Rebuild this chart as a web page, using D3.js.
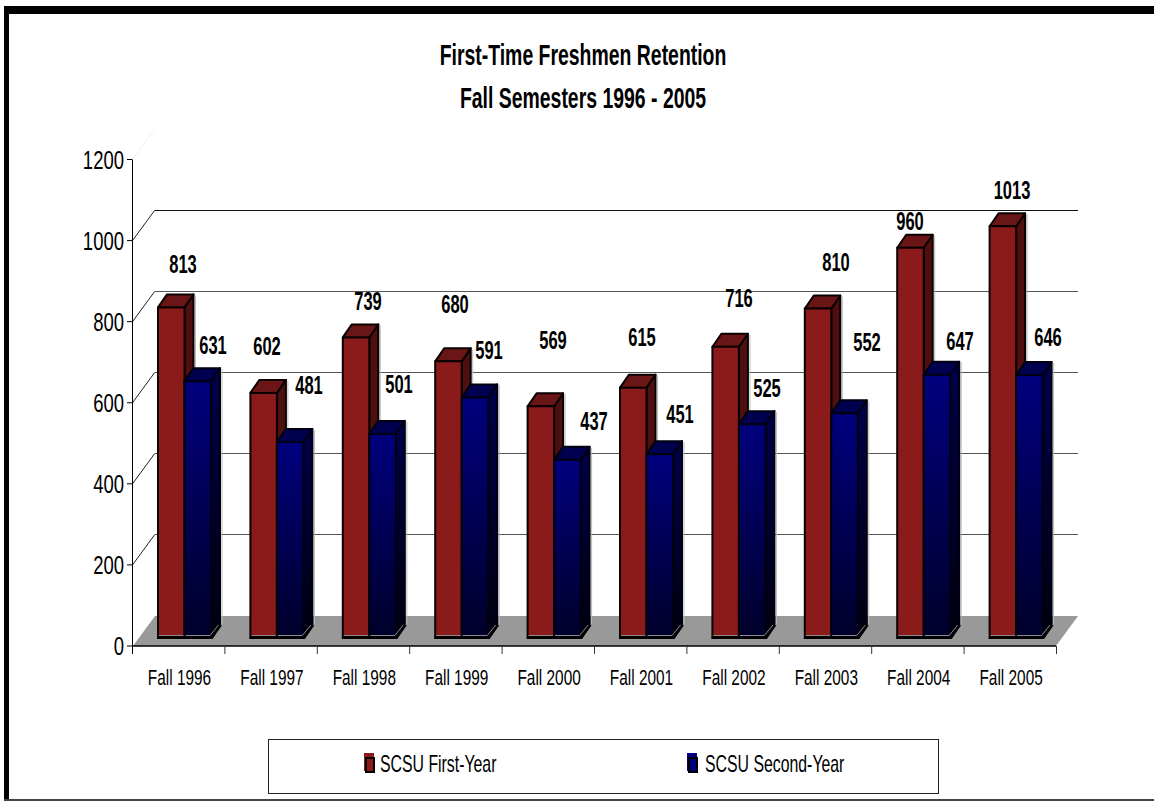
<!DOCTYPE html>
<html><head><meta charset="utf-8">
<script src="https://cdn.jsdelivr.net/npm/d3@7/dist/d3.min.js"></script>
<style>html,body{margin:0;padding:0;background:#fff}svg{display:block}text{font-family:"Liberation Sans",Arial,sans-serif;fill:#000}</style>
</head><body><svg id="c" width="1154" height="801"></svg>
<script>
const categories=["Fall 1996","Fall 1997","Fall 1998","Fall 1999","Fall 2000","Fall 2001","Fall 2002","Fall 2003","Fall 2004","Fall 2005"];
const firstYear=[813,602,739,680,569,615,716,810,960,1013];
const secondYear=[631,481,501,591,437,451,525,552,647,646];
const yTicks=[0,200,400,600,800,1000,1200];
const titleLines=["First-Time Freshmen Retention","Fall Semesters 1996 - 2005"];
const seriesNames=["SCSU First-Year","SCSU Second-Year"];
// hand-placed data-label centres, as in the reference
const firstLabelX=[183,267,368,455,553,642,739,836,910,1012];
const firstLabelY=[264,346,301,304,340,337,298,262,221,190];
const secondLabelX=[213,309,399,489,594,680,767,867,960,1048];
const secondLabelY=[345,385,384,350,421,414,388,342,341,337];

const svg=d3.select("#c");
const defs=svg.append("defs");
const g=defs.append("linearGradient").attr("id","blue").attr("x1",0).attr("x2",0).attr("y1",0).attr("y2",1);
g.append("stop").attr("offset",0).attr("stop-color","#00007e");
g.append("stop").attr("offset",1).attr("stop-color","#00002a");
const gs=defs.append("linearGradient").attr("id","blueSide").attr("x1",0).attr("x2",0).attr("y1",0).attr("y2",1);
gs.append("stop").attr("offset",0).attr("stop-color","#00004a");
gs.append("stop").attr("offset",1).attr("stop-color","#000010");

const y=d3.scaleLinear().domain([0,1200]).range([646,159.5]);
const x=d3.scaleBand().domain(categories).range([132.5,1056.5]);
const dx=22,dy=30,bdx=9,bdy=13,barW=26.5,base=-9;
const text=(s,px,py,size,bold,sx)=>svg.append("text")
  .attr("transform",`translate(${px},${py}) scale(${sx},1)`).attr("text-anchor","middle")
  .attr("font-size",size).attr("font-weight",bold?"bold":"normal").text(s);

// frame
svg.append("rect").attr("x",4).attr("y",6).attr("width",1150).attr("height",8).attr("fill","#000");
svg.append("rect").attr("x",4).attr("y",6).attr("width",5).attr("height",795).attr("fill","#000");
svg.append("rect").attr("x",4).attr("y",799).attr("width",1150).attr("height",2).attr("fill","#444");

// titles
titleLines.forEach((t,i)=>text(t,583,65+i*43,29,true,0.67));

// floor
svg.append("polygon").attr("fill","#999").attr("points",[[133,y(0)],[133+dx,y(0)-dy],[1078,y(0)-dy],[1056,y(0)]].join(" "));
// gridlines and wall edges
yTicks.slice(1).forEach(t=>{
  const last=t===1200;
  svg.append("line").attr("x1",132.5).attr("x2",132.5+dx).attr("y1",y(t)).attr("y2",y(t)-dy)
    .attr("stroke",last?"#e4e4e4":"#222").attr("stroke-dasharray",last?"2 2":null);
  if(!last) svg.append("line").attr("x1",132.5+dx).attr("x2",1078).attr("y1",Math.floor(y(t)-dy)+.5).attr("y2",Math.floor(y(t)-dy)+.5).attr("stroke",t===1000?"#111":"#555").attr("stroke-width",1);
});

// axes
svg.append("line").attr("x1",132.5).attr("x2",132.5).attr("y1",y(1200)).attr("y2",y(0)+8).attr("stroke","#000");
svg.append("line").attr("x1",132).attr("x2",1056).attr("y1",y(0)).attr("y2",y(0)).attr("stroke","#000").attr("stroke-width",1.5);
yTicks.forEach(t=>{
  svg.append("line").attr("x1",127).attr("x2",132).attr("y1",y(t)).attr("y2",y(t)).attr("stroke","#000");
  svg.append("text").attr("transform",`translate(124,${y(t)+9}) scale(0.74,1)`).attr("text-anchor","end").attr("font-size",25).text(t);
});
categories.forEach((c,i)=>{
  const l=x(c)+x.bandwidth();
  svg.append("line").attr("x1",l).attr("x2",l).attr("y1",y(0)).attr("y2",y(0)+8).attr("stroke","#333");
  text(c,x(c)+47,685,22,false,0.7);
});

// bars
function bar(xl,v,front,top,side,edge){
  const t=y(v)+base,b=y(0)+base,r=xl+barW;
  svg.append("line").attr("x1",r+bdx+2).attr("x2",r+bdx+2).attr("y1",t-bdy+1).attr("y2",b-bdy).attr("stroke","#bbb");
  const gg=svg.append("g").attr("stroke",edge).attr("stroke-width",2).attr("stroke-linejoin","round");
  gg.append("polygon").attr("fill",side).attr("points",[[r,t],[r+bdx,t-bdy],[r+bdx,b-bdy],[r,b]].join(" "));
  gg.append("polygon").attr("fill",top).attr("points",[[xl,t],[xl+bdx,t-bdy],[r+bdx,t-bdy],[r,t]].join(" "));
  gg.append("rect").attr("x",xl).attr("y",t).attr("width",barW).attr("height",b-t).attr("fill",front);
  // black foot with a faint highlight on the edge above it
  svg.append("path").attr("fill","none").attr("stroke","#000").attr("stroke-width",2)
    .attr("d",`M${xl-1},${b+1}H${r+1}L${r+bdx+1},${b-bdy+1}`);
  svg.append("path").attr("fill","none").attr("stroke","#8a8a8a").attr("stroke-width",1)
    .attr("d",`M${xl+1},${b-1.5}H${r-1}L${r+bdx-1.5},${b-bdy+1}`);
}
categories.forEach((c,i)=>{
  const x0=x(c)+25.5;
  bar(x0,firstYear[i],"#8b1a1a","#6b1616","#4d0f0f","#0a0000");
  bar(x0+barW,secondYear[i],"url(#blue)","#000050","url(#blueSide)","#000010");
  text(firstYear[i],firstLabelX[i],firstLabelY[i]+9,25,true,0.66);
  text(secondYear[i],secondLabelX[i],secondLabelY[i]+9,25,true,0.66);
});

// legend
svg.append("rect").attr("x",268.5).attr("y",739.5).attr("width",670).attr("height",54).attr("fill","#fff").attr("stroke","#222");
[[364,"#8b1a1a",380],[687,"#00007e",705]].forEach((d,i)=>{
  svg.append("rect").attr("x",d[0]).attr("y",753).attr("width",10).attr("height",18).attr("fill",d[1]);
  svg.append("rect").attr("x",d[0]+2).attr("y",758).attr("width",8).attr("height",14).attr("fill","none").attr("stroke","#000").attr("stroke-width",2);
  svg.append("text").attr("transform",`translate(${d[2]},772) scale(0.66,1)`).attr("font-size",24).text(seriesNames[i]);
});
</script></body></html>
